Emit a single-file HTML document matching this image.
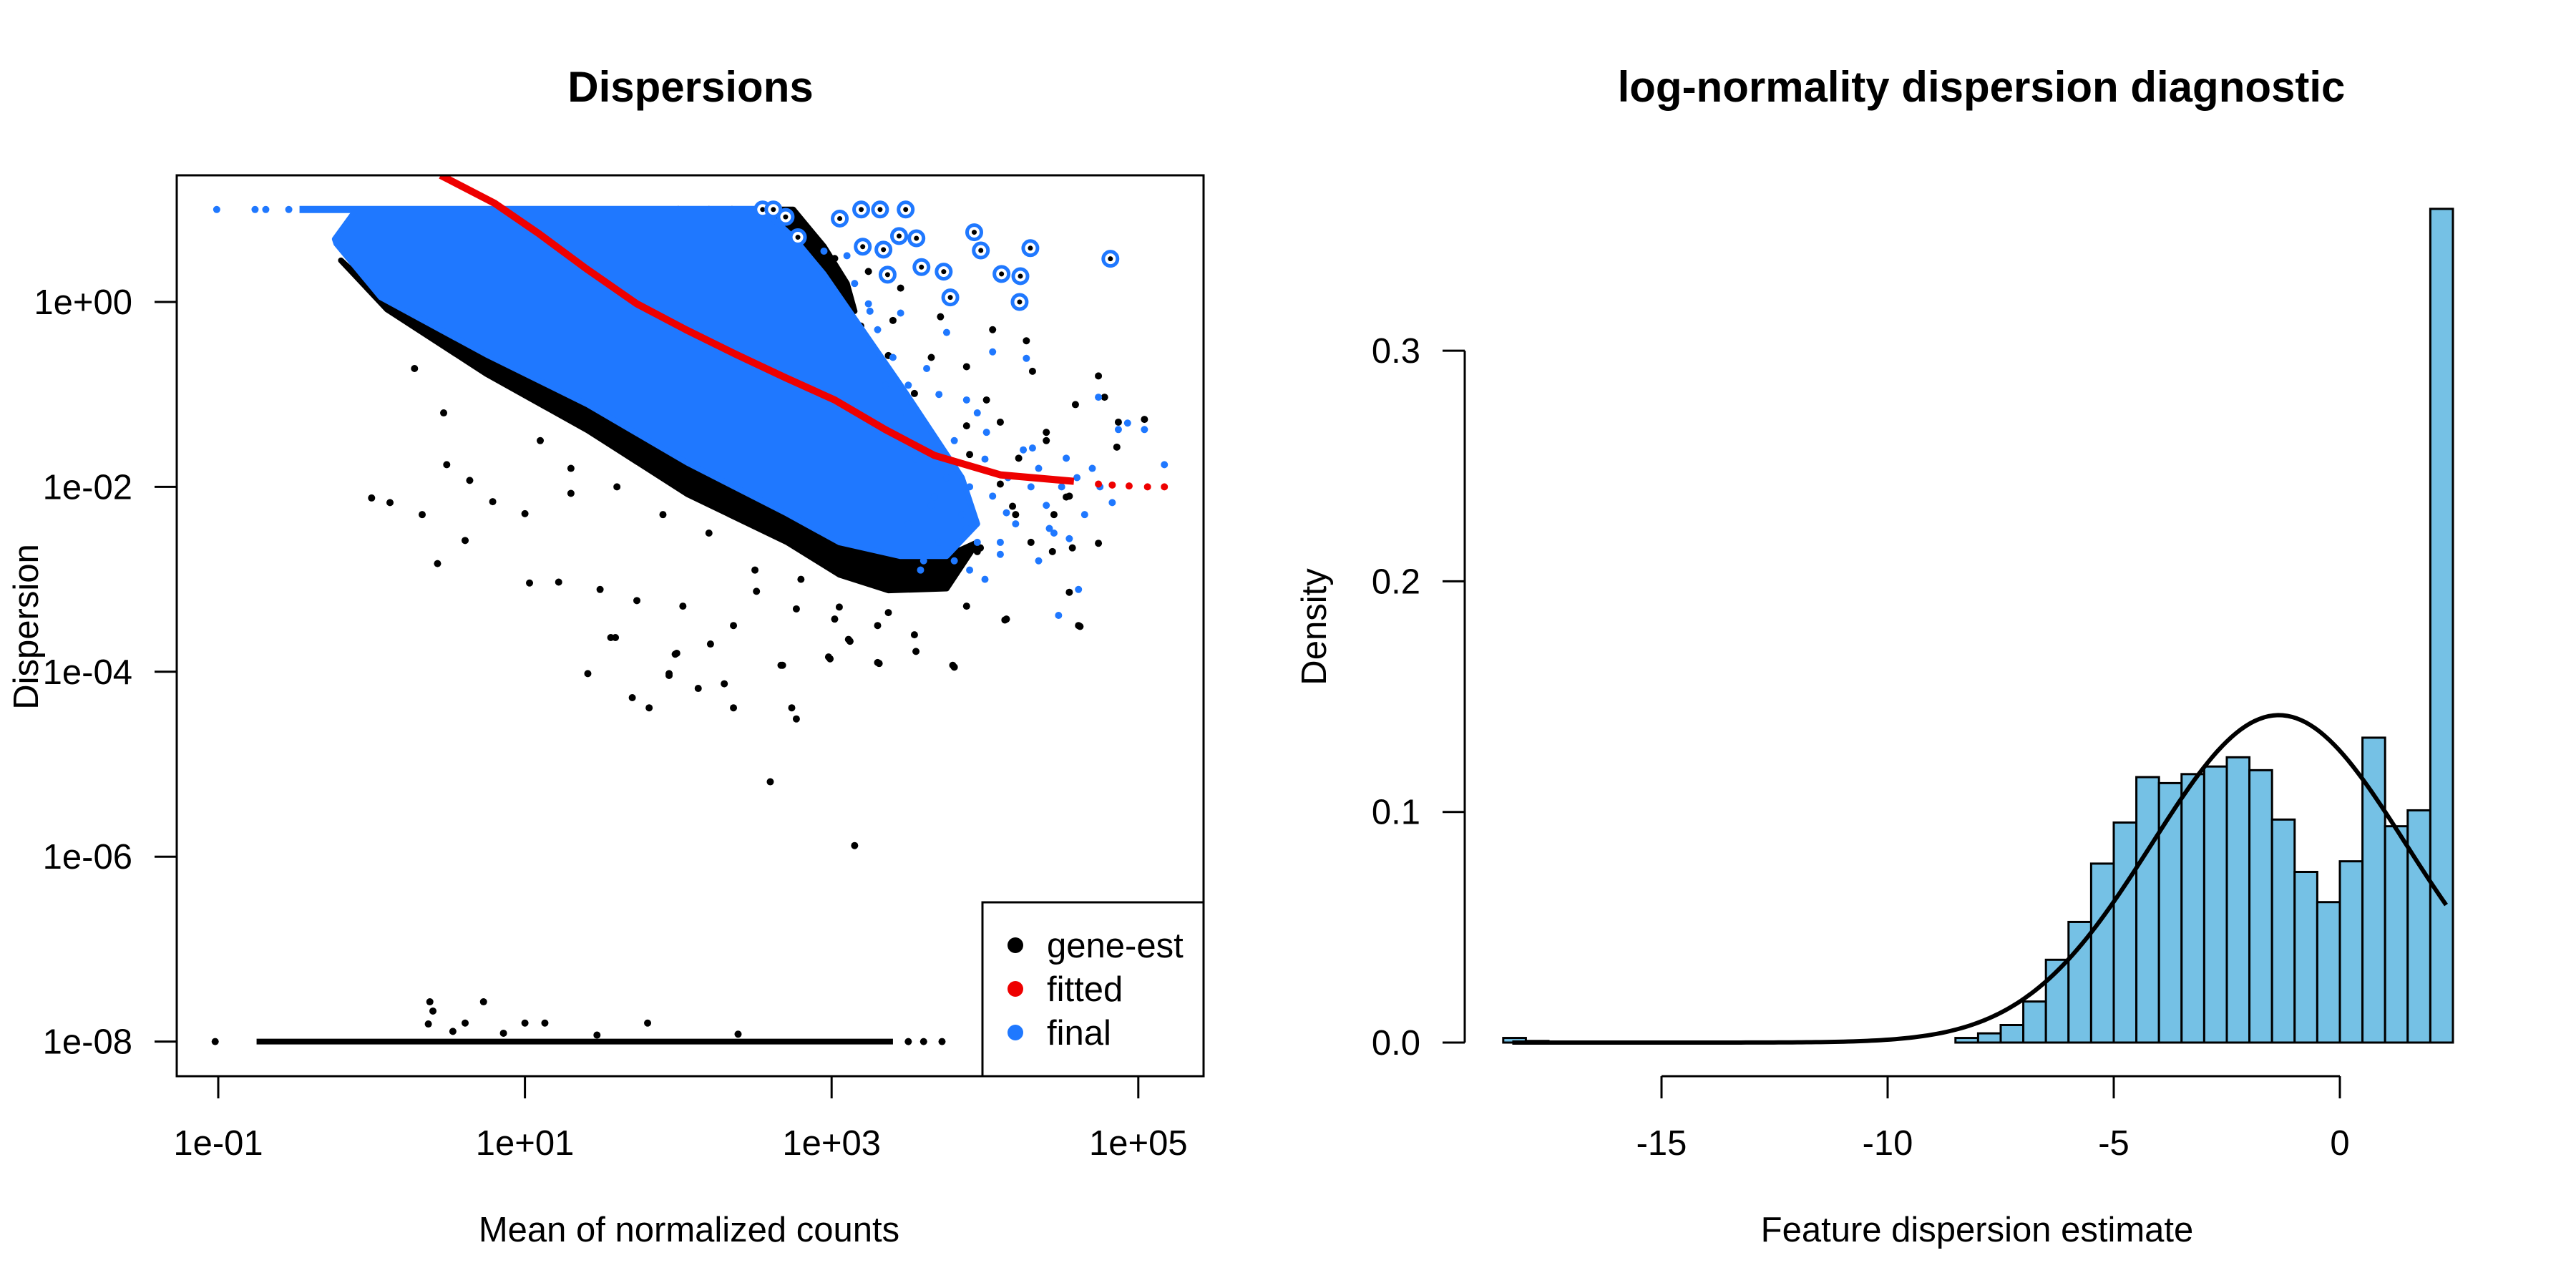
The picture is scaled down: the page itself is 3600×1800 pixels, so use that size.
<!DOCTYPE html>
<html><head><meta charset="utf-8"><style>
html,body{margin:0;padding:0;background:#fff;}
svg{display:block;font-family:"Liberation Sans",Arial,sans-serif;}
</style></head><body>
<svg id="c" width="3600" height="1800" viewBox="0 0 3600 1800" xmlns="http://www.w3.org/2000/svg">
<rect width="3600" height="1800" fill="#fff"/>
<g id="left"></g>
<g id="right"></g>
</svg>
<script>
// ---- Left panel data (log10 mean, log10 dispersion) ----
const xTickLabels = ["1e-01","1e+01","1e+03","1e+05"];
const xTickVals = [-1,1,3,5];
const yTickLabels = ["1e+00","1e-02","1e-04","1e-06","1e-08"];
const yTickVals = [0,-2,-4,-6,-8];
const blueCloudX = [-0.10,2.55,2.75,2.95,3.2,3.45,3.65,3.85,3.95,3.75,3.45,3.05,2.71,2.06,1.41,0.75,0.06,-0.23,-0.24];
const blueCloudY = [1.0,1.0,0.7,0.3,-0.3,-0.9,-1.4,-1.9,-2.4,-2.75,-2.75,-2.60,-2.29,-1.74,-1.11,-0.57,0.05,0.63,0.68];
const blackCloudX = [-0.20,0.10,0.75,1.41,2.06,2.71,3.05,3.37,3.75,3.95,3.75,3.45,3.05,2.71,2.06,1.41,0.75,0.06];
const blackCloudY = [0.45,-0.08,-0.78,-1.39,-2.08,-2.60,-2.95,-3.12,-3.1,-2.6,-2.75,-2.75,-2.60,-2.29,-1.74,-1.11,-0.57,0.05];
const blackTopX = [2.2,2.75,2.95,3.1,3.15,2.8,2.4];
const blackTopY = [1.0,1.0,0.6,0.2,-0.1,0.3,0.8];
const fitX = [0.45,0.8,1.09,1.4,1.73,2.05,2.38,2.7,3.02,3.35,3.67,4.10,4.58];
const fitY = [1.37,1.07,0.74,0.36,-0.02,-0.30,-0.57,-0.82,-1.06,-1.38,-1.66,-1.87,-1.94];
const fitDotX = [4.74,4.83,4.94,5.06,5.17];
const fitDotY = [-1.97,-1.98,-1.99,-2.0,-2.0];
const outX = [3.053,3.193,3.316,3.483,3.440,3.553,3.930,3.973,4.296,4.108,4.231,4.226,3.774,3.731,3.586,3.365,3.203,3.338,4.818,2.55,2.62,2.70,2.78];
const outY = [0.902,1.0,1.0,1.0,0.713,0.689,0.754,0.557,0.582,0.303,0.279,0.0,0.049,0.328,0.377,0.295,0.598,0.566,0.467,1.0,1.0,0.92,0.70];
const blackX = [0.00,0.12,0.33,0.43,0.61,0.47,0.28,0.49,0.64,0.79,1.00,1.03,1.22,1.30,1.49,1.56,1.73,1.98,1.94,2.03,2.21,2.36,2.51,2.67,2.98,3.30,3.79,3.11,3.54,3.88,4.14,4.61,4.74,4.57,4.44,4.78,4.74,5.04,4.59,4.27,4.05,3.71,3.88,4.31,4.53,4.18,4.10,4.40,3.80,3.97,3.67,3.37,3.02,2.77,3.45,3.24,3.02,2.81,2.59,2.38,2.16,3.02,3.19,3.37,3.54,3.67,3.88,4.01,4.22,
 1.41,1.59,1.70,1.81,1.94,1.99,2.13,2.30,2.36,2.68,2.60,2.74,2.77,3.15,2.99,3.31,3.55,3.80,3.12,4.62,4.13,4.55,4.86,4.87,
 2.3,2.4,2.5,2.6,2.7,2.8,2.9,3.0,3.1,3.2,3.3,3.35,3.45,3.6,3.7,3.8,3.55,3.75,3.95,4.2,4.3,4.45,4.55,3.9,4.1,4.4,3.65,3.4,2.2,2.35,2.0,3.05,3.3,2.8,2.5,2.2,1.9,1.6,1.3,1.1,
 -1.02,0.38,0.40,0.73,0.37,0.61,0.53,1.00,1.13,1.80,2.39,0.86,1.47,3.50,3.60,3.72];
const blackY = [-2.12,-2.17,-2.30,-2.83,-2.58,-1.20,-0.72,-1.76,-1.93,-2.16,-2.29,-3.04,-3.03,-2.07,-3.11,-3.63,-3.23,-3.81,-4.02,-3.29,-3.70,-3.50,-3.13,-3.93,-3.84,-3.90,-3.93,-3.65,-3.60,-3.29,-3.43,-3.50,-2.61,-2.66,-2.70,-1.03,-0.80,-1.27,-1.11,-0.42,-0.30,-0.16,-0.70,-0.75,-2.11,-2.21,-1.97,-1.41,-2.28,-2.66,-2.97,-3.36,-3.43,-3.32,0.15,0.33,0.47,0.61,0.74,0.92,0.99,-0.02,-0.26,-0.58,-0.99,-1.58,-1.34,-1.06,-1.69,
 -4.02,-3.63,-4.28,-4.39,-4.04,-3.80,-4.18,-4.13,-4.39,-3.93,-5.19,-4.39,-4.51,-5.88,-3.86,-3.91,-3.78,-3.95,-3.67,-3.51,-3.44,-3.14,-1.57,-1.30,
 0.9,0.7,0.55,0.45,0.35,0.2,0.1,-0.2,-0.5,-0.7,-1.0,-1.3,-1.6,-1.9,-2.3,-2.6,-2.9,-3.0,-2.7,-2.3,-2.6,-2.3,-2.1,-1.65,-1.3,-1.5,-0.6,-0.2,1.0,1.0,1.0,-3.3,-3.5,-3.0,-2.9,-2.5,-2.3,-2.0,-1.8,-1.5,
 -8.0,-7.57,-7.67,-7.57,-7.81,-7.80,-7.89,-7.80,-7.80,-7.80,-7.92,-7.91,-7.93,-8.0,-8.0,-8.0];
const blueX = [5.17,5.04,4.93,4.74,4.61,4.48,4.55,4.42,4.14,4.27,4.05,3.75,3.45,3.24,3.62,3.88,4.01,4.31,4.53,3.80,3.67,3.88,4.10,3.80,3.58,4.83,4.87,-1.01,-0.76,-0.69,-0.54,
 3.3,3.4,3.5,3.45,3.6,3.7,3.8,3.75,3.9,3.85,4.0,4.05,4.15,4.2,4.3,4.35,4.4,4.5,4.6,4.65,3.95,3.7,3.6,3.9,4.1,4.45,3.35,3.25,3.15,3.1,2.95,3.55,4.25,4.7,4.75,3.65,3.95,3.5,4.0,4.35];
const blueY = [-1.76,-1.38,-1.31,-1.03,-3.11,-3.39,-2.56,-2.45,-2.28,-0.61,-0.54,-0.33,-0.12,-0.02,-0.72,-1.06,-1.41,-1.58,-1.69,-1.76,-2.11,-2.45,-2.73,-2.80,-2.90,-2.17,-1.38,1.0,1.0,1.0,1.0,
 -0.3,-0.6,-0.9,-1.2,-1.3,-1.0,-1.5,-1.9,-2.0,-2.3,-1.7,-2.1,-1.9,-2.4,-2.0,-1.8,-2.2,-2.0,-1.9,-2.3,-2.6,-2.6,-2.8,-2.9,-2.6,-2.5,-0.9,-0.1,0.2,0.5,0.55,-1.7,-1.6,-1.8,-2.0,-2.2,-1.2,-2.4,-3.0,-2.8];
const zeroLineX = [-0.75,3.40];
const zeroLineY = -8.0;
const topLineX = [-0.47,2.55];
const topLineY = 1.0;
const legendLabels = ["gene-est","fitted","final"];
const legendColors = ["#000000","#ee0000","#1f78ff"];

// ---- Right panel data ----
const binStart = -18.5, binWidth = 0.5;
const densities = [0.002,0.0007,0,0,0,0,0,0,0,0,0,0,0,0,0,0,0,0,0,0,0.002,0.004,0.0076,0.0178,0.0359,0.0523,0.0776,0.0954,0.1151,0.1125,0.1164,0.1197,0.1237,0.1181,0.0967,0.074,0.0609,0.0786,0.1322,0.0938,0.1007,0.3615];
const rxTickLabels = ["-15","-10","-5","0"];
const rxTickVals = [-15,-10,-5,0];
const ryTickLabels = ["0.0","0.1","0.2","0.3"];
const ryTickVals = [0,0.1,0.2,0.3];
const normMean = -1.35, normSd = 2.81, normFrom = -18.3, normTo = 2.35;

const NS="http://www.w3.org/2000/svg";
function mk(parent,tag,attrs,text){const e=document.createElementNS(NS,tag);for(const k in attrs)e.setAttribute(k,attrs[k]);if(text!==undefined)e.textContent=text;parent.appendChild(e);return e;}

// Left axes
const L=document.getElementById('left');
const X=v=>305+(v+1)*214.3;
const Y=v=>422-v*129.2;
const clip=mk(L,'clipPath',{id:'lc'});mk(clip,'rect',{x:247,y:245,width:1435,height:1259});
const plot=mk(L,'g',{'clip-path':'url(#lc)'});


let p=blackCloudX.map((x,i)=>X(x)+','+Y(blackCloudY[i])).join(' ');
let e=mk(plot,'polygon',{points:p,fill:'#000',stroke:'#000','stroke-width':8,'stroke-linejoin':'round'});


p=blackTopX.map((x,i)=>X(x)+','+Y(blackTopY[i])).join(' ');
e=mk(plot,'polygon',{points:p,fill:'#000',stroke:'#000','stroke-width':8,'stroke-linejoin':'round'});


e=mk(plot,'line',{x1:X(zeroLineX[0]),x2:X(zeroLineX[1]),y1:Y(zeroLineY),y2:Y(zeroLineY),stroke:'#000','stroke-width':8});


blackX.forEach((x,i)=>{const c=mk(plot,'circle',{cx:X(x),cy:Y(blackY[i]),r:5,fill:'#000'});

});
p=blueCloudX.map((x,i)=>X(x)+','+Y(blueCloudY[i])).join(' ');
e=mk(plot,'polygon',{points:p,fill:'#1f78ff',stroke:'#1f78ff','stroke-width':8,'stroke-linejoin':'round'});


e=mk(plot,'line',{x1:X(topLineX[0]),x2:X(topLineX[1]),y1:Y(topLineY),y2:Y(topLineY),stroke:'#1f78ff','stroke-width':10});


blueX.forEach((x,i)=>{const c=mk(plot,'circle',{cx:X(x),cy:Y(blueY[i]),r:5,fill:'#1f78ff'});

});
p=fitX.map((x,i)=>X(x)+','+Y(fitY[i])).join(' ');
e=mk(plot,'polyline',{points:p,fill:'none',stroke:'#ee0000','stroke-width':10,'stroke-linejoin':'round'});


fitDotX.forEach((x,i)=>{const c=mk(plot,'circle',{cx:X(x),cy:Y(fitDotY[i]),r:5,fill:'#ee0000'});

});
outX.forEach((x,i)=>{const g=mk(plot,'g',{});


mk(g,'circle',{cx:X(x),cy:Y(outY[i]),r:10,fill:'#fff',stroke:'#1f78ff','stroke-width':5});
mk(g,'circle',{cx:X(x),cy:Y(outY[i]),r:3.5,fill:'#000'});});
e=mk(L,'rect',{x:247,y:245,width:1435,height:1259,fill:'none',stroke:'#000','stroke-width':3});


xTickVals.forEach((v,i)=>{mk(L,'line',{x1:X(v),x2:X(v),y1:1504,y2:1535,stroke:'#000','stroke-width':3});
const t=mk(L,'text',{x:X(v),y:1614,'font-size':49,'text-anchor':'middle'},xTickLabels[i]);

});
yTickVals.forEach((v,i)=>{mk(L,'line',{x1:216,x2:247,y1:Y(v),y2:Y(v),stroke:'#000','stroke-width':3});
const t=mk(L,'text',{x:185,y:Y(v)+17,'font-size':49,'text-anchor':'end'},yTickLabels[i]);

});
e=mk(L,'text',{x:965,y:142,'font-size':60,'font-weight':'bold','text-anchor':'middle'},'Dispersions');


e=mk(L,'text',{x:963,y:1735,'font-size':49,'text-anchor':'middle'},'Mean of normalized counts');


e=mk(L,'text',{x:0,y:0,'font-size':49,'text-anchor':'middle',transform:'translate(53,876) rotate(-90)'},'Dispersion');


const lg=mk(L,'g',{});


mk(lg,'rect',{x:1373,y:1261,width:309,height:243,fill:'#fff',stroke:'#000','stroke-width':3});
legendLabels.forEach((s,i)=>{const yy=1321+i*61;
mk(lg,'circle',{cx:1419,cy:yy,r:11,fill:legendColors[i]});
const t=mk(lg,'text',{x:1463,y:yy+17,'font-size':49},s);

});

// Right panel
const R=document.getElementById('right');
const RX=v=>3270+v*63.2;
const RY=v=>1457-v*3223;
densities.forEach((d,i)=>{const x0=binStart+i*binWidth;
if(d<=0)return;
const r=mk(R,'rect',{x:RX(x0),y:RY(d),width:RX(x0+binWidth)-RX(x0),height:RY(0)-RY(d),fill:'#75c1e5',stroke:'#000','stroke-width':3});

});
let pts=[];
for(let k=0;k<=200;k++){const x=normFrom+(normTo-normFrom)*k/200;
const d=Math.exp(-0.5*((x-normMean)/normSd)**2)/(normSd*Math.sqrt(2*Math.PI));pts.push(RX(x)+','+RY(d));}
e=mk(R,'polyline',{points:pts.join(' '),fill:'none',stroke:'#000','stroke-width':6});


mk(R,'line',{x1:2047,x2:2047,y1:RY(0),y2:RY(0.3),stroke:'#000','stroke-width':3});
ryTickVals.forEach((v,i)=>{mk(R,'line',{x1:2016,x2:2047,y1:RY(v),y2:RY(v),stroke:'#000','stroke-width':3});
const t=mk(R,'text',{x:1985,y:RY(v)+17,'font-size':49,'text-anchor':'end'},ryTickLabels[i]);

});
mk(R,'line',{x1:RX(-15),x2:RX(0),y1:1504,y2:1504,stroke:'#000','stroke-width':3});
rxTickVals.forEach((v,i)=>{mk(R,'line',{x1:RX(v),x2:RX(v),y1:1504,y2:1535,stroke:'#000','stroke-width':3});
const t=mk(R,'text',{x:RX(v),y:1614,'font-size':49,'text-anchor':'middle'},rxTickLabels[i]);

});
e=mk(R,'text',{x:2769,y:142,'font-size':60,'font-weight':'bold','text-anchor':'middle'},'log-normality dispersion diagnostic');


e=mk(R,'text',{x:2763,y:1735,'font-size':49,'text-anchor':'middle'},'Feature dispersion estimate');


e=mk(R,'text',{x:0,y:0,'font-size':49,'text-anchor':'middle',transform:'translate(1853,876) rotate(-90)'},'Density');


</script>
</body></html>
